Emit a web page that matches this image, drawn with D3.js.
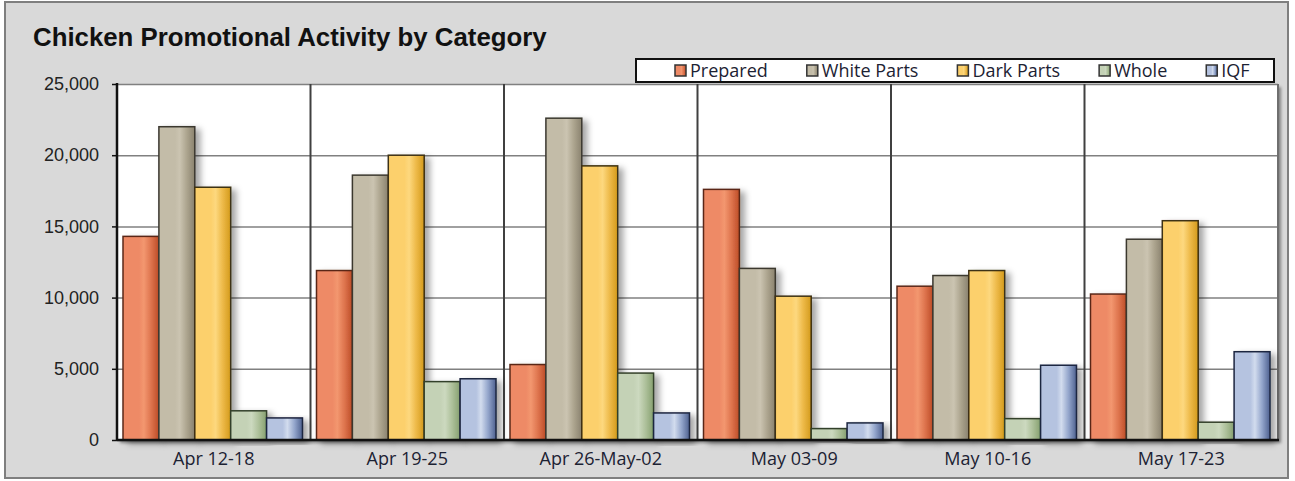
<!DOCTYPE html>
<html>
<head>
<meta charset="utf-8">
<script src="https://cdn.jsdelivr.net/npm/d3@7/dist/d3.min.js"></script>
<style>
  body { margin: 0; background: #fff; }
</style>
</head>
<body>
<div id="viz"></div>
<script>
// chart data
var weeks = ["Apr 12-18", "Apr 19-25", "Apr 26-May-02", "May 03-09", "May 10-16", "May 17-23"];
var categories = ["Prepared", "White Parts", "Dark Parts", "Whole", "IQF"];
var prepared   = [14300, 11900,  5300, 17600, 10800, 10250];
var whiteParts = [22000, 18600, 22600, 12050, 11550, 14100];
var darkParts  = [17750, 20000, 19250, 10100, 11900, 15400];
var whole      = [ 2050,  4100,  4700,   800,  1500,  1250];
var iqf        = [ 1550,  4300,  1900,  1200,  5250,  6200];
var yTicks = [0, 5000, 10000, 15000, 20000, 25000];

var series = [prepared, whiteParts, darkParts, whole, iqf];

// bar shading: base, highlight, mid, dark edge, outline
var shades = [
  ["#EE8A66", "#F3976F", "#DE744E", "#BD4C26", "#5a2818"],
  ["#C3BCA8", "#CBC4B1", "#ACA48E", "#8A826E", "#3b382f"],
  ["#FCD06C", "#FDD87E", "#EDB948", "#D39A1B", "#3d3112"],
  ["#C4D2B6", "#CCD9BF", "#ADC09A", "#86A06F", "#33402a"],
  ["#B5C3E0", "#D2DCEE", "#93A5CB", "#4D608F", "#1d2640"]
];

var W = 1295, H = 481;
var margin = { top: 84, right: 17, bottom: 41, left: 117 },
    width = W - margin.left - margin.right,
    height = H - margin.top - margin.bottom;

var root = d3.select("#viz")
  .append("svg")
  .attr("width", W)
  .attr("height", H);

var defs = root.append("defs");

// one horizontal gradient per category
categories.forEach(function (c, i) {
  var g = defs.append("linearGradient")
    .attr("id", "grad" + i)
    .attr("x1", "0%").attr("x2", "100%")
    .attr("y1", "0%").attr("y2", "0%");
  g.append("stop").attr("offset", "0%").attr("stop-color", shades[i][0]);
  g.append("stop").attr("offset", "45%").attr("stop-color", shades[i][0]);
  g.append("stop").attr("offset", "58%").attr("stop-color", shades[i][1]);
  g.append("stop").attr("offset", "78%").attr("stop-color", shades[i][2]);
  g.append("stop").attr("offset", "100%").attr("stop-color", shades[i][3]);
});

var shadow = defs.append("filter")
  .attr("id", "shadow")
  .attr("x", "-20%").attr("y", "-10%")
  .attr("width", "160%").attr("height", "130%");
shadow.append("feDropShadow")
  .attr("dx", 5).attr("dy", 3)
  .attr("stdDeviation", 3)
  .attr("flood-color", "#000")
  .attr("flood-opacity", 0.35);

var plotShadow = defs.append("filter")
  .attr("id", "plotShadow")
  .attr("x", "-5%").attr("y", "-5%")
  .attr("width", "110%").attr("height", "110%");
plotShadow.append("feDropShadow")
  .attr("dx", 3).attr("dy", 3)
  .attr("stdDeviation", 1.5)
  .attr("flood-color", "#000")
  .attr("flood-opacity", 0.4);

// outer frame
root.append("rect")
  .attr("x", 5).attr("y", 2)
  .attr("width", 1283).attr("height", 476)
  .attr("fill", "#d9d9d9")
  .attr("stroke", "#7f7f7f")
  .attr("stroke-width", 2);

// title
root.append("text")
  .attr("x", 33).attr("y", 46)
  .style("font-family", "'Liberation Sans', Arial, sans-serif")
  .style("font-weight", "bold")
  .style("font-size", "25.8px")
  .attr("fill", "#111")
  .text("Chicken Promotional Activity by Category");

var svg = root.append("g")
  .attr("transform", "translate(" + margin.left + "," + margin.top + ")");

// scales
var x0 = d3.scaleBand().domain(weeks).range([0, width]).padding(0);
var x1 = d3.scaleBand().domain(d3.range(categories.length))
  .range([6, x0.bandwidth() - 8]).padding(0);
var y = d3.scaleLinear().domain([0, 25000]).range([height, 0]);

// plot background
svg.append("rect")
  .attr("width", width).attr("height", height)
  .attr("fill", "#fff")
  .attr("filter", "url(#plotShadow)");

// horizontal gridlines
svg.append("g")
  .attr("class", "grid")
  .call(d3.axisLeft(y).tickValues(yTicks).tickSize(-width).tickFormat(""))
  .call(g => g.select(".domain").remove())
  .call(g => g.selectAll("line").attr("stroke", "#808080").attr("stroke-width", 1.5));

// group separators
svg.append("g")
  .selectAll("line")
  .data(weeks.slice(1))
  .enter().append("line")
  .attr("x1", d => x0(d)).attr("x2", d => x0(d))
  .attr("y1", 0).attr("y2", height)
  .attr("stroke", "#404040")
  .attr("stroke-width", 2);

svg.append("line")
  .attr("x1", width).attr("x2", width)
  .attr("y1", 0).attr("y2", height)
  .attr("stroke", "#6f6f6f")
  .attr("stroke-width", 2);

// bars
var groups = svg.append("g")
  .selectAll("g")
  .data(weeks)
  .enter().append("g")
  .attr("transform", d => "translate(" + x0(d) + ",0)");

groups.selectAll("rect")
  .data((d, wi) => series.map((s, ci) => ({ ci: ci, value: s[wi] })))
  .enter().append("rect")
  .attr("x", d => x1(d.ci))
  .attr("y", d => y(d.value))
  .attr("width", x1.bandwidth())
  .attr("height", d => height - y(d.value))
  .attr("fill", d => "url(#grad" + d.ci + ")")
  .attr("stroke", d => shades[d.ci][4])
  .attr("stroke-width", 1.5)
  .attr("filter", "url(#shadow)");

// y-axis
svg.append("g")
  .attr("class", "axis axis--y")
  .call(d3.axisLeft(y).tickValues(yTicks).tickFormat(d3.format(",")).tickSize(5).tickPadding(13))
  .call(g => g.select(".domain").remove())
  .call(g => g.selectAll("line").attr("stroke", "#111").attr("stroke-width", 1.5))
  .call(g => g.selectAll("text")
    .style("font-family", "'Liberation Sans', Arial, sans-serif")
    .style("font-size", "18px")
    .attr("fill", "#222"));

svg.append("line")
  .attr("x1", 0).attr("x2", 0)
  .attr("y1", -1).attr("y2", height + 1)
  .attr("stroke", "#111")
  .attr("stroke-width", 2.5);

// x-axis
svg.append("g")
  .attr("class", "axis axis--x")
  .attr("transform", "translate(0," + height + ")")
  .call(d3.axisBottom(x0).tickSize(0).tickPadding(12))
  .call(g => g.select(".domain").remove())
  .call(g => g.selectAll("text")
    .style("font-family", "'Open Sans', sans-serif")
    .style("font-size", "18px")
    .attr("fill", "#1c2233"));

svg.append("line")
  .attr("x1", 0).attr("x2", width + 1)
  .attr("y1", height).attr("y2", height)
  .attr("stroke", "#111")
  .attr("stroke-width", 2.5);

// legend
var legend = root.append("g");
legend.append("rect")
  .attr("x", 636).attr("y", 59)
  .attr("width", 638).attr("height", 23)
  .attr("fill", "#fff")
  .attr("stroke", "#111")
  .attr("stroke-width", 2);

var lx = 675;
categories.forEach(function (c, i) {
  legend.append("rect")
    .attr("x", lx).attr("y", 65)
    .attr("width", 11).attr("height", 11)
    .attr("fill", "url(#grad" + i + ")")
    .attr("stroke", "#333")
    .attr("stroke-width", 1.5);
  var t = legend.append("text")
    .attr("x", lx + 15).attr("y", 77)
    .style("font-family", "'Open Sans', sans-serif")
    .style("font-size", "18px")
    .attr("fill", "#1c2233")
    .text(c);
  lx += 15 + t.node().getComputedTextLength() + 39;
});
</script>
</body>
</html>
